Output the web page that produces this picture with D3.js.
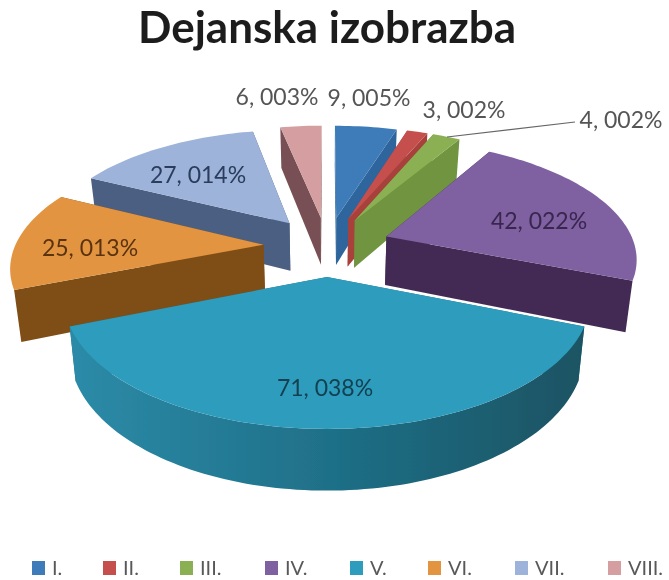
<!doctype HTML>
<html>
<head>
    <style>
        body { margin: 0; background: #fff; }
        text { font-family: Lato, "Open Sans", sans-serif; }
    </style>
    <script src="https://d3js.org/d3.v7.min.js"></script>
</head>
<body>
<div id="chart"></div>
<script>
    // data
    var categories = ["I.", "II.", "III.", "IV.", "V.", "VI.", "VII.", "VIII."];
    var values = [9, 3, 4, 42, 71, 25, 27, 6];
    var labels = ["9, 005%", "3, 002%", "4, 002%", "42, 022%", "71, 038%", "25, 013%", "27, 014%", "6, 003%"];

    var topColors = ["#3e7cb8", "#c5504d", "#8bb052", "#7f60a0", "#2f9cbd", "#e2943f", "#9db3da", "#d59fa1"];
    var sideColors = ["#2f659c", "#a8403a", "#6f9440", "#432b55", "#1e6f86", "#7f4e18", "#4c5f82", "#785054"];
    var textColors = ["#555", "#555", "#555", "#38264f", "#123f50", "#5a3310", "#2a3c5c", "#555"];

    // label centres, legend positions
    var labelPos = [[369, 98], [464, 110], [621, 120], [539, 221], [325, 388], [90, 248], [198, 175], [277, 97]];
    var legendX = [32, 103, 180, 265, 350, 428, 515, 608];

    var width = 669, height = 580;

    // projection of the tilted pie
    var cx = 327, cy = 246, radius = 246, explode = 63, camera = 1500, tilt = 0.47, depth = 49;
    var stretchX = 1.01, shrinkDown = 0.977;

    function project(X, Z, down) {
        var w = 1 / (1 - Z / camera);
        return [cx + X * w * stretchX * (down ? shrinkDown : 1), cy + (tilt * Z + (down ? depth : 0)) * w];
    }

    var svg = d3.select("#chart").append("svg")
        .attr("width", width)
        .attr("height", height);

    var defs = svg.append("defs");
    defs.append("filter").attr("id", "soft")
        .append("feGaussianBlur").attr("stdDeviation", 0.5);

    var rimGrad = defs.append("linearGradient").attr("id", "rimV")
        .attr("gradientUnits", "userSpaceOnUse")
        .attr("x1", 70).attr("x2", 585).attr("y1", 0).attr("y2", 0);
    rimGrad.append("stop").attr("offset", "0").attr("stop-color", "#2c8ba8");
    rimGrad.append("stop").attr("offset", "0.5").attr("stop-color", "#1f7088");
    rimGrad.append("stop").attr("offset", "1").attr("stop-color", "#1a5362");

    var pieData = d3.pie().sort(null)(values);
    var line = d3.line();

    // one exploded slice: apex offset plus world position on the rim
    function sliceGeom(d) {
        var mid = (d.startAngle + d.endAngle) / 2;
        var ox = explode * Math.sin(mid), oz = -explode * Math.cos(mid);
        var n = Math.max(4, Math.ceil((d.endAngle - d.startAngle) * 40));
        var rim = d3.range(n + 1).map(function(i) {
            var a = d.startAngle + (d.endAngle - d.startAngle) * i / n;
            return [ox + radius * Math.sin(a), oz - radius * Math.cos(a)];
        });
        return { apex: [ox, oz], rim: rim, key: oz - radius * Math.cos(mid) * 0.6 };
    }

    function quad(a, b) {
        return line([project(a[0], a[1]), project(b[0], b[1]), project(b[0], b[1], true), project(a[0], a[1], true)]) + "Z";
    }

    var slices = pieData.map(function(d) {
        var g = sliceGeom(d);
        g.index = d.index;
        return g;
    }).sort(function(a, b) { return a.key - b.key; });

    var pie_g = svg.append("g").attr("filter", "url(#soft)");

    slices.forEach(function(s) {
        var g = pie_g.append("g");
        var last = s.rim[s.rim.length - 1];

        // walls from back to front, the top goes over them
        var walls = [
            { d: quad(s.apex, s.rim[0]), z: (s.apex[1] + s.rim[0][1]) / 2, fill: sideColors[s.index] },
            { d: quad(s.apex, last), z: (s.apex[1] + last[1]) / 2, fill: sideColors[s.index] }
        ];
        var rimDown = s.rim.map(function(p) { return project(p[0], p[1], true); }).reverse();
        var rimTop = s.rim.map(function(p) { return project(p[0], p[1]); });
        // only the slice facing the viewer shows its rim
        var rimZ = d3.mean(s.rim, function(p) { return p[1]; });
        if (rimZ > radius / 2) {
            walls.push({ d: line(rimTop.concat(rimDown)) + "Z", z: rimZ, fill: "url(#rimV)" });
        }
        walls.sort(function(a, b) { return a.z - b.z; });

        g.selectAll("path.wall").data(walls).join("path")
            .attr("class", "wall")
            .attr("d", function(w) { return w.d; })
            .attr("fill", function(w) { return w.fill; });

        g.append("path")
            .attr("d", line([project(s.apex[0], s.apex[1])].concat(rimTop)) + "Z")
            .attr("fill", topColors[s.index]);
    });

    // leader line for the III. slice
    svg.append("path")
        .attr("d", line([[447, 137], [575, 122]]))
        .attr("fill", "none")
        .attr("stroke", "#666")
        .attr("stroke-width", 1.2);

    var txt_g = svg.append("g").attr("filter", "url(#soft)");

    txt_g.append("text")
        .attr("x", 327)
        .attr("y", 43)
        .attr("text-anchor", "middle")
        .attr("font-size", "44px")
        .attr("font-weight", 700)
        .attr("fill", "#1c1c1c")
        .text("Dejanska izobrazba");

    txt_g.selectAll("text.lab").data(labels).join("text")
        .attr("class", "lab")
        .attr("x", function(d, i) { return labelPos[i][0]; })
        .attr("y", function(d, i) { return labelPos[i][1]; })
        .attr("dy", "0.35em")
        .attr("text-anchor", "middle")
        .attr("font-size", "23px")
        .attr("fill", function(d, i) { return textColors[i]; })
        .text(function(d) { return d; });

    // legend
    var legend = txt_g.selectAll("g.leg").data(categories).join("g")
        .attr("class", "leg")
        .attr("transform", function(d, i) { return "translate(" + legendX[i] + ",561)"; });

    legend.append("rect")
        .attr("width", 13)
        .attr("height", 14)
        .attr("fill", function(d, i) { return topColors[i]; });

    legend.append("text")
        .attr("x", 20)
        .attr("y", 14)
        .attr("font-size", "20px")
        .attr("fill", "#595959")
        .text(function(d) { return d; });
</script>
</body>
</html>
